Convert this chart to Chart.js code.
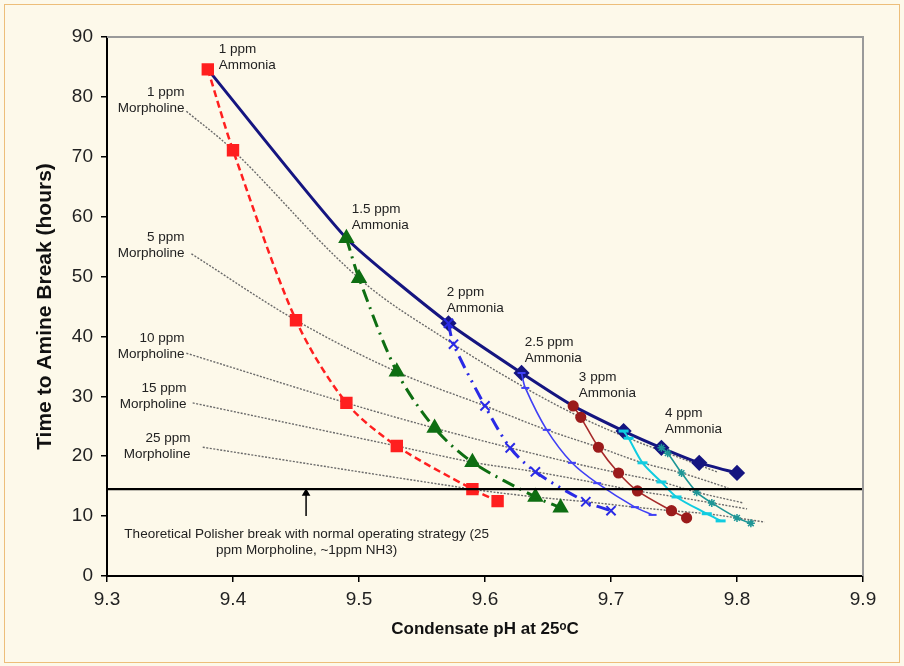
<!DOCTYPE html>
<html>
<head>
<meta charset="utf-8">
<script src="https://cdn.jsdelivr.net/npm/chart.js@4.4.1/dist/chart.umd.min.js"></script>
<style>
html,body{margin:0;padding:0;background:#FDF9EA;}
#wrap{position:relative;width:904px;height:666px;}
#frame{position:absolute;left:4px;top:4px;width:894px;height:657px;border:1px solid #EDBE7A;pointer-events:none;}
canvas{position:absolute;left:0;top:0;}
</style>
</head>
<body>
<div id="wrap"><canvas id="c" width="904" height="666"></canvas><div id="frame"></div></div>
<script>
// ---- Data ----
const xTicks = [9.3, 9.4, 9.5, 9.6, 9.7, 9.8, 9.9];
const yTicks = [0, 10, 20, 30, 40, 50, 60, 70, 80, 90];

// Ammonia series (pH, hours); points correspond to 0,1,5,10,15,25,(higher) ppm morpholine
const nh3_1_pH   = [9.38, 9.40, 9.45, 9.49, 9.53, 9.59, 9.61];
const nh3_1_hr   = [84.6, 71.1, 42.7, 28.9, 21.7, 14.5, 12.5];
const nh3_15_pH  = [9.49, 9.50, 9.53, 9.56, 9.59, 9.64, 9.66];
const nh3_15_hr  = [56.4, 49.7, 34.1, 24.7, 19.0, 13.2, 11.4];
const nh3_2_pH   = [9.571, 9.575, 9.60, 9.62, 9.64, 9.68, 9.70];
const nh3_2_hr   = [42.2, 38.7, 28.4, 21.4, 17.4, 12.4, 10.9];
const nh3_25_pH  = [9.629, 9.632, 9.649, 9.669, 9.689, 9.719, 9.733];
const nh3_25_hr  = [33.9, 31.4, 24.4, 18.9, 15.5, 11.5, 10.2];
const nh3_3_pH   = [9.670, 9.676, 9.690, 9.706, 9.721, 9.748, 9.760];
const nh3_3_hr   = [28.4, 26.5, 21.5, 17.2, 14.2, 10.9, 9.7];
const nh3_35_pH  = [9.710, 9.714, 9.725, 9.740, 9.752, 9.776, 9.787];
const nh3_35_hr  = [24.2, 23.0, 18.9, 15.7, 13.2, 10.4, 9.2];
const nh3_4_pH   = [9.740, 9.745, 9.756, 9.768, 9.780, 9.800, 9.811];
const nh3_4_hr   = [21.4, 20.5, 17.2, 14.0, 12.2, 9.7, 8.8];

// Envelope (no morpholine)
const env_pH = [9.38, 9.49, 9.571, 9.629, 9.670, 9.710, 9.740, 9.770, 9.800];
const env_hr = [84.6, 56.4, 42.2, 33.9, 28.4, 24.2, 21.4, 18.9, 17.2];

// Morpholine iso-lines: start and end points
const morphNames   = ['1 ppm', '5 ppm', '10 ppm', '15 ppm', '25 ppm'];
const morphStartPH = [9.363, 9.367, 9.363, 9.368, 9.376];
const morphStartHr = [77.6, 53.8, 37.2, 28.9, 21.5];
const morphEndPH   = [9.784, 9.793, 9.805, 9.808, 9.822];
const morphEndHr   = [17.4, 14.7, 12.2, 11.2, 9.0];

// Polisher break line and arrow
const polisherHr = 14.5;
const arrowPH = 9.458;
const arrowFromHr = 10.0;
const arrowToHr = 13.8;

// ---- build datasets ----
const pts = (xs, ys) => xs.map((x, i) => ({x: x, y: ys[i]}));
const ammonia = [
  [nh3_1_pH, nh3_1_hr], [nh3_15_pH, nh3_15_hr], [nh3_2_pH, nh3_2_hr], [nh3_25_pH, nh3_25_hr],
  [nh3_3_pH, nh3_3_hr], [nh3_35_pH, nh3_35_hr], [nh3_4_pH, nh3_4_hr]
];
const morphDatasets = morphNames.map((n, k) => {
  const d = [{x: morphStartPH[k], y: morphStartHr[k]}];
  ammonia.forEach(([xs, ys]) => d.push({x: xs[k + 1], y: ys[k + 1]}));
  d.push({x: morphEndPH[k], y: morphEndHr[k]});
  return {
    label: n + ' Morpholine', data: d, showLine: true, borderColor: '#6a6a6a', borderWidth: 1.4,
    borderDash: [2, 1.5], pointRadius: 0, tension: 0.35, order: 20
  };
});

const ds = [
  ...morphDatasets,
  {label: 'Envelope', data: pts(env_pH, env_hr), showLine: true, borderColor: '#151580', backgroundColor: '#151580',
   borderWidth: 3, pointStyle: 'rectRot', pointRadius: [0, 0, 6, 6, 0, 6, 6, 6, 6], tension: 0.18, order: 10},
  {label: '1 ppm Ammonia', data: pts(nh3_1_pH, nh3_1_hr), showLine: true, borderColor: '#FF1F1F', backgroundColor: '#FF1F1F',
   borderWidth: 2.5, borderDash: [7, 4], pointStyle: 'rect', pointRadius: 7, tension: 0.3, order: 1},
  {label: '1.5 ppm Ammonia', data: pts(nh3_15_pH, nh3_15_hr), showLine: true, borderColor: '#0E6E12', backgroundColor: '#0E6E12',
   borderWidth: 3, borderDash: [13, 6, 2, 6], pointStyle: 'triangle', pointRadius: 6.5, tension: 0.3, order: 2},
  {label: '2 ppm Ammonia', data: pts(nh3_2_pH, nh3_2_hr), showLine: true, borderColor: '#2A2AE6', backgroundColor: '#2A2AE6',
   borderWidth: 3, borderDash: [13, 6, 2, 6, 2, 6], pointStyle: 'crossRot', pointRadius: 6.5, pointBorderWidth: 2, tension: 0.3, order: 3},
  {label: '2.5 ppm Ammonia', data: pts(nh3_25_pH, nh3_25_hr), showLine: true, borderColor: '#4040F5', backgroundColor: '#4040F5',
   borderWidth: 1.6, pointStyle: 'line', pointRadius: 4, pointBorderWidth: 2, tension: 0.3, order: 4},
  {label: '3 ppm Ammonia', data: pts(nh3_3_pH, nh3_3_hr), showLine: true, borderColor: '#A62A2A', backgroundColor: '#9B1B1B',
   borderWidth: 1.6, pointStyle: 'circle', pointRadius: 4.8, pointBorderColor: '#9B1B1B', tension: 0.3, order: 5},
  {label: '3.5 ppm Ammonia', data: pts(nh3_35_pH, nh3_35_hr), showLine: true, borderColor: '#10CCE0', backgroundColor: '#10CCE0',
   borderWidth: 2, pointStyle: 'line', pointRadius: 5, pointBorderWidth: 3, tension: 0.3, order: 6},
  {label: '4 ppm Ammonia', data: pts(nh3_4_pH, nh3_4_hr), showLine: true, borderColor: '#1E9696', backgroundColor: '#1E9696',
   borderWidth: 1.6, pointStyle: 'star', pointRadius: 4, pointBorderWidth: 1.5, tension: 0.3, order: 7},
  {label: 'Polisher break', data: [{x: xTicks[0], y: polisherHr}, {x: xTicks[xTicks.length - 1], y: polisherHr}],
   showLine: true, borderColor: '#000', borderWidth: 2.2, pointRadius: 0, order: 0},
  {label: 'Arrow', data: [{x: arrowPH, y: arrowFromHr}, {x: arrowPH, y: arrowToHr}], showLine: true,
   borderColor: '#000', backgroundColor: '#000', borderWidth: 1.5, pointStyle: 'triangle', pointRadius: [0, 3.5], order: 0}
];

// text annotations (data coordinates)
const notes = [
  {lines: ['1 ppm', 'Ammonia'], x: 9.3886, y: 88.0, align: 'left'},
  {lines: ['1 ppm', 'Morpholine'], x: 9.3616, y: 80.8, align: 'right'},
  {lines: ['1.5 ppm', 'Ammonia'], x: 9.4942, y: 61.3, align: 'left'},
  {lines: ['5 ppm', 'Morpholine'], x: 9.3616, y: 56.6, align: 'right'},
  {lines: ['2 ppm', 'Ammonia'], x: 9.5697, y: 47.4, align: 'left'},
  {lines: ['10 ppm', 'Morpholine'], x: 9.3616, y: 39.7, align: 'right'},
  {lines: ['2.5 ppm', 'Ammonia'], x: 9.6316, y: 39.1, align: 'left'},
  {lines: ['15 ppm', 'Morpholine'], x: 9.3631, y: 31.4, align: 'right'},
  {lines: ['3 ppm', 'Ammonia'], x: 9.6745, y: 33.1, align: 'left'},
  {lines: ['25 ppm', 'Morpholine'], x: 9.3663, y: 23.0, align: 'right'},
  {lines: ['4 ppm', 'Ammonia'], x: 9.7428, y: 27.2, align: 'left'},
  {lines: ['Theoretical Polisher break with normal operating strategy (25', 'ppm Morpholine, ~1ppm NH3)'], x: 9.4585, y: 7.0, align: 'center'}
];

const notesPlugin = {
  id: 'notes',
  afterDatasetsDraw(chart) {
    const ctx = chart.ctx, xs = chart.scales.x, ys = chart.scales.y;
    ctx.save();
    const a = chart.chartArea;
    ctx.strokeStyle = '#9a9a9a'; ctx.lineWidth = 2;
    ctx.beginPath(); ctx.moveTo(a.left, a.top); ctx.lineTo(a.right, a.top); ctx.lineTo(a.right, a.bottom); ctx.stroke();
    ctx.fillStyle = '#222';
    ctx.font = '13.5px "Liberation Sans", Arial, sans-serif';
    ctx.textBaseline = 'middle';
    notes.forEach(n => {
      const px = xs.getPixelForValue(n.x), py = ys.getPixelForValue(n.y);
      ctx.textAlign = n.align;
      n.lines.forEach((t, i) => ctx.fillText(t, px, py + i * 16));
    });
    ctx.restore();
  }
};

new Chart(document.getElementById('c'), {
  type: 'scatter',
  data: {datasets: ds},
  options: {
    responsive: false, animation: false, devicePixelRatio: 1,
    layout: {padding: {top: 37, right: 41, left: 0, bottom: 0}},
    plugins: {legend: {display: false}, tooltip: {enabled: false}},
    scales: {
      x: {
        type: 'linear', min: xTicks[0], max: xTicks[xTicks.length - 1],
        afterBuildTicks: s => { s.ticks = xTicks.map(v => ({value: v})); },
        afterFit: s => { s.height = 90; },
        border: {color: '#000', width: 2},
        grid: {drawOnChartArea: false, drawTicks: true, tickLength: 6, color: '#000', lineWidth: 1.5},
        ticks: {color: '#222', font: {family: '"Liberation Sans", Arial', size: 19}, padding: 6,
                callback: v => Number(v).toFixed(1), maxRotation: 0},
        title: {display: true, text: 'Condensate pH at 25\u1D52C', color: '#111',
                font: {family: '"Liberation Sans", Arial', size: 17, weight: 'bold'}, padding: {top: 4, bottom: 26}}
      },
      y: {
        type: 'linear', min: yTicks[0], max: yTicks[yTicks.length - 1],
        afterBuildTicks: s => { s.ticks = yTicks.map(v => ({value: v})); },
        afterFit: s => { s.width = 107; },
        border: {color: '#000', width: 2},
        grid: {drawOnChartArea: false, drawTicks: true, tickLength: 6, color: '#000', lineWidth: 1.5},
        ticks: {color: '#222', font: {family: '"Liberation Sans", Arial', size: 19}, padding: 8},
        title: {display: true, text: 'Time to Amine Break (hours)', color: '#111',
                font: {family: '"Liberation Sans", Arial', size: 21, weight: 'bold'}, padding: {top: 33, bottom: 0}}
      }
    }
  },
  plugins: [notesPlugin]
});
</script>
</body>
</html>
